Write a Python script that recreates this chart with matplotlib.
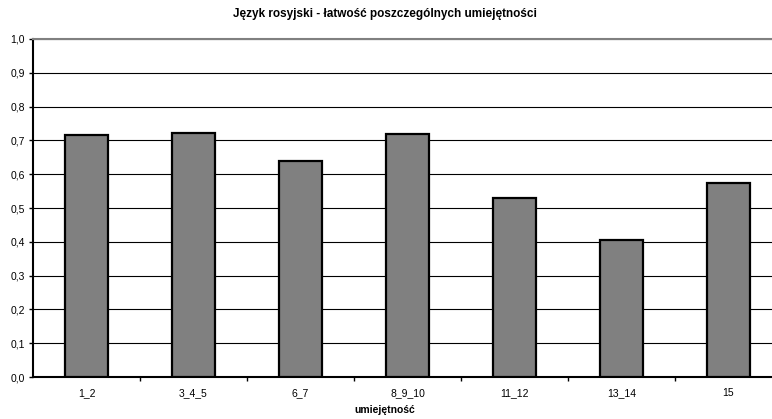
import matplotlib
matplotlib.use('Agg')
import matplotlib.pyplot as plt
import numpy as np

categories = ['1_2', '3_4_5', '6_7', '8_9_10', '11_12', '13_14', '15']
values = [0.716, 0.722, 0.638, 0.719, 0.529, 0.404, 0.575]
yticks = [0.0, 0.1, 0.2, 0.3, 0.4, 0.5, 0.6, 0.7, 0.8, 0.9, 1.0]
ytick_labels = ['0,0', '0,1', '0,2', '0,3', '0,4', '0,5', '0,6', '0,7', '0,8', '0,9', '1,0']

plt.rcParams['font.family'] = ['Liberation Sans', 'DejaVu Sans']

fig = plt.figure(figsize=(7.72, 4.19), dpi=100)
ax = fig.add_axes([33/772, 42/419, 749/772, 338/419])

x = np.arange(len(categories))
ax.bar(x, values, width=0.41, color='#808080', edgecolor='black', linewidth=1.6, zorder=3)

ax.set_xlim(-0.5, len(categories) - 0.5)
ax.set_ylim(0, 1.0)
ax.set_yticks(yticks)
ax.set_yticklabels(ytick_labels, fontsize=7.5)
ax.yaxis.grid(True, color='black', linewidth=0.8, zorder=0)

# category labels centred, ticks on the boundaries
ax.set_xticks(x)
ax.set_xticklabels(categories, fontsize=7.5)
ax.tick_params(axis='x', length=0, pad=8)
ax.set_xticks(np.arange(len(categories)) + 0.5, minor=True)
ax.tick_params(axis='x', which='minor', length=3, width=1, direction='out')
ax.tick_params(axis='y', length=3, width=1, direction='out', pad=3)

for s in ['left', 'bottom']:
    ax.spines[s].set_linewidth(1.5)
    ax.spines[s].set_color('black')
ax.spines['right'].set_visible(False)
ax.spines['top'].set_color('#808080')
ax.spines['top'].set_linewidth(1.5)

fig.text(385/772, 1 - 14/419, 'Język rosyjski - łatwość poszczególnych umiejętności',
         ha='center', va='center', fontsize=8.5, fontweight='bold')
fig.text(385/772, 1 - 410/419, 'umiejętność', ha='center', va='center',
         fontsize=7.5, fontweight='bold')

plt.savefig('out.png', dpi=100)
